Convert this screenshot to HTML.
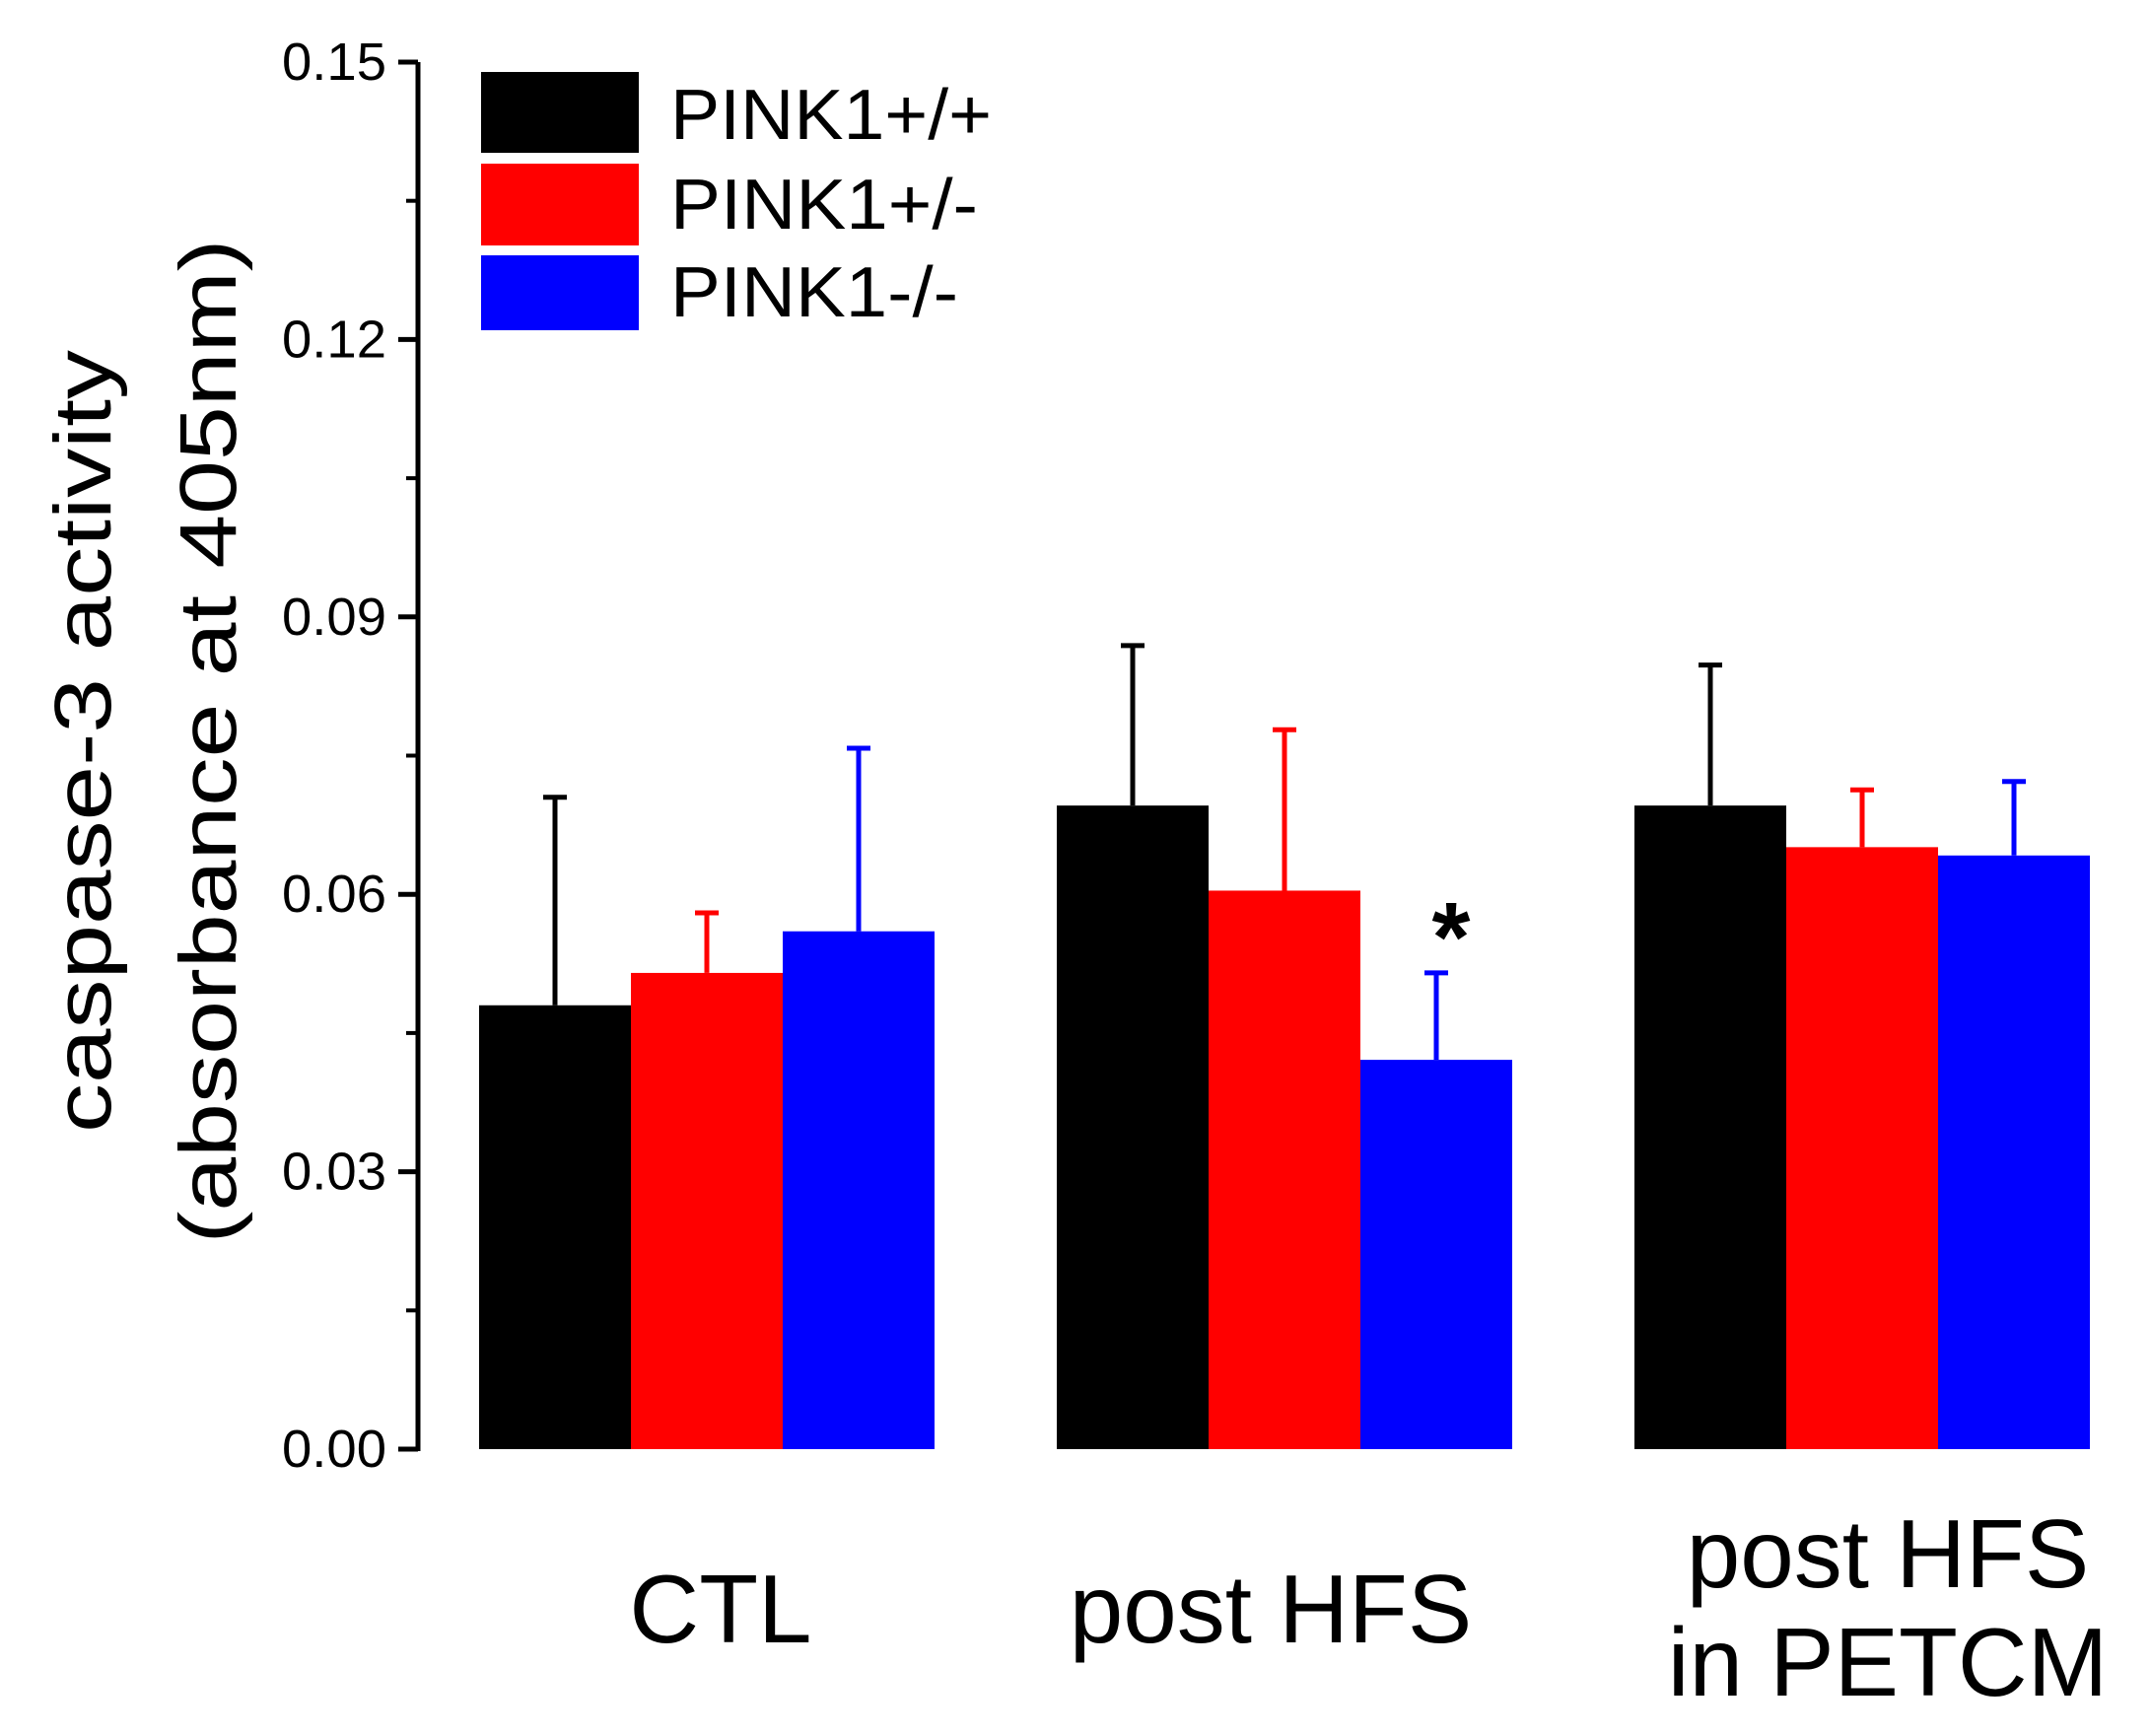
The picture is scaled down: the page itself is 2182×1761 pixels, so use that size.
<!DOCTYPE html>
<html><head><meta charset="utf-8"><style>
html,body{margin:0;padding:0;background:#fff;}
svg{display:block;font-family:"Liberation Sans",sans-serif;}
</style></head><body>
<svg id="chart" width="2182" height="1761" viewBox="0 0 2182 1761">
<g id="axes"></g>
<g id="bars"></g>
<g>
<rect x="488" y="73" width="160" height="82" fill="#000"/>
<rect x="488" y="166" width="160" height="83" fill="#ff0000"/>
<rect x="488" y="259" width="160" height="76" fill="#0000ff"/>
<text x="680" y="141" font-size="72" textLength="326" lengthAdjust="spacingAndGlyphs">PINK1+/+</text>
<text x="680" y="232" font-size="72" textLength="312" lengthAdjust="spacingAndGlyphs">PINK1+/-</text>
<text x="680" y="321" font-size="72" textLength="292" lengthAdjust="spacingAndGlyphs">PINK1-/-</text>
</g>
<g>
<text transform="translate(112,752) rotate(-90)" text-anchor="middle" font-size="82" textLength="794" lengthAdjust="spacingAndGlyphs">caspase-3 activity</text>
<text transform="translate(239,752) rotate(-90)" text-anchor="middle" font-size="82" textLength="1019" lengthAdjust="spacingAndGlyphs">(absorbance at 405nm)</text>
</g>
<g font-size="98" text-anchor="middle">
<text x="731" y="1666">CTL</text>
<text x="1289" y="1666">post HFS</text>
<text x="1915" y="1610">post HFS</text>
<text x="1915" y="1720">in PETCM</text>
</g>
<text x="1472" y="985" font-size="100" font-weight="bold" text-anchor="middle">*</text>
</svg>
<script>
const categories = ["CTL", "post HFS", "post HFS in PETCM"];
const seriesNames = ["PINK1+/+", "PINK1+/-", "PINK1-/-"];
const wtValues = [0.048, 0.0696, 0.0696];
const wtErr = [0.0225, 0.0173, 0.0152];
const hetValues = [0.0515, 0.0604, 0.0651];
const hetErr = [0.0065, 0.0174, 0.0062];
const koValues = [0.056, 0.0421, 0.0642];
const koErr = [0.0198, 0.0094, 0.008];
const yTicks = [0, 0.03, 0.06, 0.09, 0.12, 0.15];
const yTickLabels = ["0.00", "0.03", "0.06", "0.09", "0.12", "0.15"];

const NS = "http://www.w3.org/2000/svg";
const y0 = 1470, yTop = 63, yMax = 0.15;
function yScale(v){ return y0 - (v / yMax) * (y0 - yTop); }
const groupStart = 486, groupStep = 586, barW = 154;
function xScale(ci, si){ return groupStart + ci * groupStep + si * barW; }
function mk(tag, attrs, parent){ const e = document.createElementNS(NS, tag); for (const k in attrs) e.setAttribute(k, attrs[k]); parent.appendChild(e); return e; }

const axes = document.getElementById('axes');
const axisLine = mk('line', {x1:424, y1:yTop, x2:424, y2:y0+2, stroke:'#000', 'stroke-width':5}, axes);


for (let i = 0; i < yTicks.length; i++) {
  const y = yScale(yTicks[i]);
  const t = mk('line', {x1:404, y1:y, x2:424, y2:y, stroke:'#000', 'stroke-width':5}, axes);
  
  
  const lb = mk('text', {x:392, y:y, 'font-size':54, 'text-anchor':'end', 'dominant-baseline':'central', textLength:106, lengthAdjust:'spacingAndGlyphs'}, axes);
  lb.textContent = yTickLabels[i];
  
  
  if (i < yTicks.length - 1) {
    const ym = yScale((yTicks[i] + yTicks[i+1]) / 2);
    const m = mk('line', {x1:412, y1:ym, x2:424, y2:ym, stroke:'#000', 'stroke-width':4}, axes);
    
    
  }
}

const bars = document.getElementById('bars');
const series = [[wtValues, wtErr, '#000000'], [hetValues, hetErr, '#ff0000'], [koValues, koErr, '#0000ff']];
for (let ci = 0; ci < categories.length; ci++) {
  for (let si = 0; si < series.length; si++) {
    const [vals, errs, col] = series[si];
    const x = xScale(ci, si), yv = yScale(vals[ci]), ye = yScale(vals[ci] + errs[ci]);
    const cx = x + barW / 2;
    const eb = mk('line', {x1:cx, y1:yv, x2:cx, y2:ye, stroke:col, 'stroke-width':5}, bars);
    
    
    const cap = mk('line', {x1:cx-12, y1:ye, x2:cx+12, y2:ye, stroke:col, 'stroke-width':5}, bars);
    
    
    const r = mk('rect', {x:x, y:yv, width:barW, height:y0 - yv, fill:col}, bars);
    
    
  }
}
</script>
</body></html>
